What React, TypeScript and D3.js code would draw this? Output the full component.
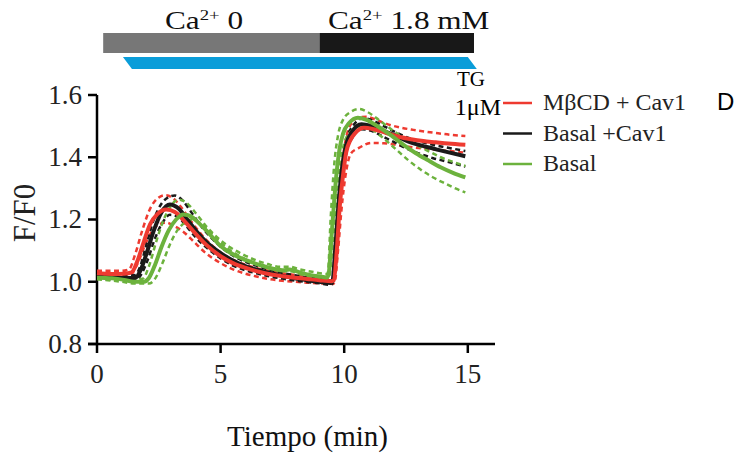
import React, { useRef, useEffect } from "react";
import * as d3 from "d3";

// time (min), F/F0
const RED_MEAN = [[0,1.027],[0.6,1.025],[1.1,1.026],[1.4,1.03],[1.65,1.07],[1.9,1.13],[2.15,1.185],[2.45,1.218],[2.8,1.232],[3.15,1.224],[3.5,1.198],[3.9,1.162],[4.4,1.12],[5,1.082],[5.5,1.06],[6,1.045],[6.5,1.033],[7,1.024],[7.5,1.018],[8,1.013],[8.5,1.009],[9,1.005],[9.5,1.002],[9.58,1.005],[9.7,1.1],[9.81,1.232],[9.95,1.34],[10.08,1.416],[10.25,1.455],[10.45,1.478],[10.8,1.495],[11.2,1.49],[11.7,1.478],[12.2,1.466],[12.7,1.458],[13.2,1.452],[13.7,1.448],[14.2,1.444],[14.9,1.44]];
const RED_HI = [[0,1.035],[1.0,1.035],[1.3,1.04],[1.55,1.09],[1.85,1.17],[2.15,1.235],[2.45,1.268],[2.75,1.278],[3.05,1.27],[3.4,1.24],[3.8,1.195],[4.3,1.145],[4.9,1.1],[5.5,1.07],[6,1.055],[6.5,1.043],[7,1.034],[7.5,1.027],[8,1.022],[8.5,1.018],[9,1.014],[9.5,1.011],[9.57,1.015],[9.68,1.13],[9.8,1.27],[9.95,1.4],[10.1,1.47],[10.3,1.51],[10.6,1.528],[10.9,1.53],[11.3,1.52],[11.8,1.505],[12.3,1.495],[12.8,1.488],[13.3,1.482],[13.8,1.477],[14.3,1.472],[14.9,1.468]];
const RED_LO = [[0,1.02],[1.0,1.018],[1.35,1.022],[1.65,1.06],[1.95,1.12],[2.25,1.165],[2.55,1.186],[2.8,1.19],[3.1,1.18],[3.5,1.16],[3.9,1.13],[4.4,1.092],[5,1.06],[5.5,1.04],[6,1.026],[6.5,1.016],[7,1.008],[7.5,1.003],[8,1.0],[8.5,0.997],[9,0.995],[9.55,0.993],[9.62,1.0],[9.75,1.1],[9.9,1.24],[10.05,1.34],[10.27,1.412],[10.6,1.43],[11.1,1.446],[11.6,1.445],[12.1,1.44],[12.6,1.434],[13.1,1.429],[13.6,1.425],[14.1,1.421],[14.9,1.415]];

const BLK_MEAN = [[0,1.016],[0.6,1.014],[1.1,1.012],[1.55,1.012],[1.75,1.035],[2.0,1.09],[2.3,1.165],[2.6,1.222],[2.95,1.248],[3.3,1.235],[3.65,1.2],[4.05,1.16],[4.5,1.122],[5,1.092],[5.5,1.068],[6,1.05],[6.5,1.038],[7,1.028],[7.5,1.019],[8,1.011],[8.5,1.005],[9,1.0],[9.45,0.996],[9.52,1.0],[9.65,1.12],[9.78,1.26],[9.92,1.37],[10.08,1.44],[10.3,1.48],[10.7,1.506],[11.1,1.5],[11.6,1.485],[12.1,1.468],[12.6,1.45],[13.1,1.438],[13.6,1.428],[14.1,1.418],[14.9,1.403]];
const BLK_HI = [[0,1.022],[1.1,1.02],[1.55,1.022],[1.75,1.05],[2.0,1.12],[2.3,1.2],[2.6,1.25],[2.9,1.272],[3.15,1.277],[3.45,1.262],[3.8,1.225],[4.2,1.18],[4.7,1.135],[5.2,1.1],[5.7,1.075],[6.2,1.058],[6.7,1.045],[7.2,1.034],[7.7,1.025],[8.2,1.018],[8.7,1.012],[9.2,1.007],[9.48,1.004],[9.55,1.01],[9.67,1.14],[9.8,1.29],[9.95,1.4],[10.1,1.46],[10.35,1.5],[10.75,1.525],[11.1,1.52],[11.6,1.5],[12.1,1.48],[12.6,1.462],[13.1,1.45],[13.6,1.44],[14.1,1.432],[14.9,1.42]];
const BLK_LO = [[0,1.01],[1.1,1.006],[1.6,1.006],[1.8,1.025],[2.05,1.07],[2.35,1.14],[2.65,1.19],[2.95,1.215],[3.25,1.21],[3.6,1.18],[4.0,1.142],[4.5,1.105],[5,1.075],[5.5,1.052],[6,1.037],[6.5,1.026],[7,1.017],[7.5,1.01],[8,1.004],[8.5,0.999],[9,0.995],[9.45,0.99],[9.53,0.995],[9.66,1.1],[9.8,1.24],[9.95,1.35],[10.1,1.42],[10.35,1.465],[10.7,1.49],[11.1,1.485],[11.6,1.465],[12.1,1.445],[12.6,1.425],[13.1,1.41],[13.6,1.397],[14.1,1.387],[14.9,1.37]];

const GRN_MEAN = [[0,1.013],[0.6,1.011],[1.1,1.006],[1.5,1.0],[1.9,1.0],[2.1,1.012],[2.35,1.055],[2.6,1.11],[2.9,1.165],[3.2,1.2],[3.5,1.216],[3.8,1.21],[4.1,1.19],[4.5,1.158],[5,1.115],[5.5,1.088],[6,1.07],[6.5,1.056],[7,1.044],[7.5,1.037],[7.8,1.039],[8.2,1.03],[8.6,1.022],[9,1.017],[9.3,1.014],[9.36,1.02],[9.5,1.16],[9.68,1.34],[9.82,1.43],[9.95,1.475],[10.2,1.51],[10.55,1.527],[10.9,1.52],[11.4,1.497],[11.9,1.47],[12.4,1.44],[12.9,1.413],[13.4,1.39],[13.9,1.368],[14.4,1.35],[14.9,1.335]];
const GRN_HI = [[0,1.018],[1.0,1.014],[1.5,1.008],[1.85,1.01],[2.1,1.05],[2.4,1.13],[2.7,1.2],[3.0,1.245],[3.3,1.264],[3.6,1.255],[3.95,1.225],[4.4,1.18],[4.9,1.14],[5.4,1.11],[5.9,1.088],[6.4,1.07],[6.9,1.057],[7.4,1.048],[7.8,1.048],[8.2,1.04],[8.7,1.032],[9.3,1.025],[9.34,1.03],[9.45,1.2],[9.6,1.38],[9.75,1.47],[9.95,1.52],[10.25,1.545],[10.6,1.555],[10.95,1.545],[11.4,1.52],[11.9,1.49],[12.4,1.462],[12.9,1.44],[13.4,1.42],[13.9,1.4],[14.4,1.385],[14.9,1.372]];
const GRN_LO = [[0,1.008],[1.0,1.0],[1.5,0.994],[2.1,0.994],[2.35,1.01],[2.65,1.06],[2.95,1.12],[3.25,1.165],[3.55,1.19],[3.84,1.2],[4.15,1.19],[4.5,1.165],[5,1.125],[5.5,1.095],[6,1.073],[6.5,1.056],[7,1.043],[7.5,1.034],[7.8,1.034],[8.2,1.025],[8.7,1.016],[9.3,1.008],[9.38,1.012],[9.53,1.12],[9.7,1.29],[9.85,1.39],[10.0,1.445],[10.3,1.485],[10.7,1.5],[11.1,1.49],[11.6,1.46],[12.1,1.425],[12.6,1.39],[13.1,1.36],[13.6,1.335],[14.1,1.315],[14.5,1.3],[14.9,1.287]];

const LEGEND = ["MβCD + Cav1", "Basal +Cav1", "Basal"];
const X_TICKS = [0, 5, 10, 15];
const Y_TICKS = [0.8, 1.0, 1.2, 1.4, 1.6];

// protocol bars (min)
const CA0 = [0.25, 9.0];
const CA18 = [9.0, 15.25];
const TG = [1.05, 15.0];

const RED = "#ee3a30";
const BLACK = "#1a1a1a";
const GREEN = "#6cb23d";
const SERIF = "'Liberation Serif', 'Times New Roman', serif";

const App = () => {
  const svgRef = useRef<SVGSVGElement>(null);
  const width = 739;
  const height = 457;

  useEffect(() => {
    const svg = d3.select(svgRef.current);
    svg.selectAll("*").remove();

    const x = d3.scaleLinear().domain([0, 16.1]).range([97, 495]);
    const y = d3.scaleLinear().domain([0.8, 1.6]).range([344, 95]);

    const groups = [
      { name: LEGEND[0], color: RED, mean: RED_MEAN, hi: RED_HI, lo: RED_LO },
      { name: LEGEND[1], color: BLACK, mean: BLK_MEAN, hi: BLK_HI, lo: BLK_LO },
      { name: LEGEND[2], color: GREEN, mean: GRN_MEAN, hi: GRN_HI, lo: GRN_LO },
    ];

    const line = d3.line<number[]>()
      .x(d => x(d[0]))
      .y(d => y(d[1]))
      .curve(d3.curveMonotoneX);

    // protocol header
    const head = svg.append("g");
    head.append("rect")
      .attr("x", x(CA0[0])).attr("y", 33)
      .attr("width", x(CA0[1]) - x(CA0[0])).attr("height", 20)
      .attr("fill", "#777777");
    head.append("rect")
      .attr("x", x(CA18[0])).attr("y", 33)
      .attr("width", x(CA18[1]) - x(CA18[0])).attr("height", 20)
      .attr("fill", "#181818");
    head.append("polygon")
      .attr("points", [
        [x(TG[0]), 57], [x(TG[1]), 57], [x(TG[1]) + 9, 69], [x(TG[0]) + 9, 69]
      ].map(p => p.join(",")).join(" "))
      .attr("fill", "#0a9dd9");

    const caLabel = (x0: number, rest: string) => {
      const t = head.append("text")
        .attr("transform", `translate(${x0},29) scale(1.25,1)`)
        .attr("font-family", SERIF)
        .attr("font-size", 25)
        .attr("fill", "#111");
      t.append("tspan").text("Ca");
      t.append("tspan").attr("dy", -9).attr("font-size", 15).text("2+");
      t.append("tspan").attr("dy", 9).text(rest);
    };
    caLabel(165, "\u00a00");
    caLabel(328, "\u00a01.8 mM");

    head.append("text")
      .attr("x", 471).attr("y", 86)
      .attr("text-anchor", "middle")
      .attr("font-family", SERIF).attr("font-size", 21)
      .text("TG");
    head.append("text")
      .attr("x", 501).attr("y", 115)
      .attr("text-anchor", "end")
      .attr("font-family", SERIF).attr("font-size", 24)
      .text("1μM");

    // axes
    const ax = svg.append("g").attr("stroke", "#000").attr("stroke-width", 2.5);
    ax.append("line")
      .attr("x1", x(0)).attr("x2", x(0))
      .attr("y1", y(1.6)).attr("y2", y(0.8));
    ax.append("line")
      .attr("x1", x(0) - 9).attr("x2", x(16.1))
      .attr("y1", y(0.8)).attr("y2", y(0.8));
    ax.selectAll(".yt").data(Y_TICKS).join("line")
      .attr("x1", x(0) - 9).attr("x2", x(0))
      .attr("y1", d => y(d)).attr("y2", d => y(d));
    ax.selectAll(".xt").data(X_TICKS).join("line")
      .attr("x1", d => x(d)).attr("x2", d => x(d))
      .attr("y1", y(0.8)).attr("y2", y(0.8) + 9);

    svg.append("g").selectAll("text").data(Y_TICKS).join("text")
      .attr("x", 82).attr("y", d => y(d)).attr("dy", "0.33em")
      .attr("text-anchor", "end")
      .attr("font-family", SERIF).attr("font-size", 27).attr("fill", "#222")
      .text(d => d3.format(".1f")(d));
    svg.append("g").selectAll("text").data(X_TICKS).join("text")
      .attr("x", d => x(d)).attr("y", 383)
      .attr("text-anchor", "middle")
      .attr("font-family", SERIF).attr("font-size", 27).attr("fill", "#222")
      .text(d => d);

    svg.append("text")
      .attr("transform", "translate(35,213) rotate(-90)")
      .attr("text-anchor", "middle")
      .attr("font-family", SERIF).attr("font-size", 31).attr("fill", "#222")
      .text("F/F0");
    svg.append("text")
      .attr("x", 307.5).attr("y", 446)
      .attr("text-anchor", "middle")
      .attr("font-family", SERIF).attr("font-size", 29).attr("fill", "#111")
      .text("Tiempo (min)");

    // traces: SEM dashed first, means on top
    const plot = svg.append("g").attr("fill", "none");
    groups.forEach(g => {
      [g.hi, g.lo].forEach(s => {
        plot.append("path")
          .attr("d", line(s))
          .attr("stroke", g.color)
          .attr("stroke-width", 2.5)
          .attr("stroke-dasharray", "5 3.5");
      });
    });
    [groups[1], groups[0], groups[2]].forEach(g => {
      plot.append("path")
        .attr("d", line(g.mean))
        .attr("stroke", g.color)
        .attr("stroke-width", 4)
        .attr("stroke-linejoin", "round");
    });

    // legend
    const leg = svg.append("g");
    groups.forEach((g, i) => {
      const ly = 103 + i * 30.5;
      leg.append("line")
        .attr("x1", 503).attr("x2", 532)
        .attr("y1", ly).attr("y2", ly)
        .attr("stroke", g.color).attr("stroke-width", 2.5);
      leg.append("text")
        .attr("x", 543).attr("y", ly + 7)
        .attr("font-family", SERIF).attr("font-size", 24).attr("fill", "#222")
        .text(g.name);
    });

    svg.append("text")
      .attr("x", 717).attr("y", 110)
      .attr("font-family", "'Liberation Sans', Arial, sans-serif")
      .attr("font-size", 24).attr("fill", "#000")
      .text("D");
  }, []);

  return (
    <svg
      ref={svgRef}
      width={width}
      height={height}
      style={{ position: "absolute", left: 0, top: 0, background: "#fff" }}
    />
  );
};

export default App;
